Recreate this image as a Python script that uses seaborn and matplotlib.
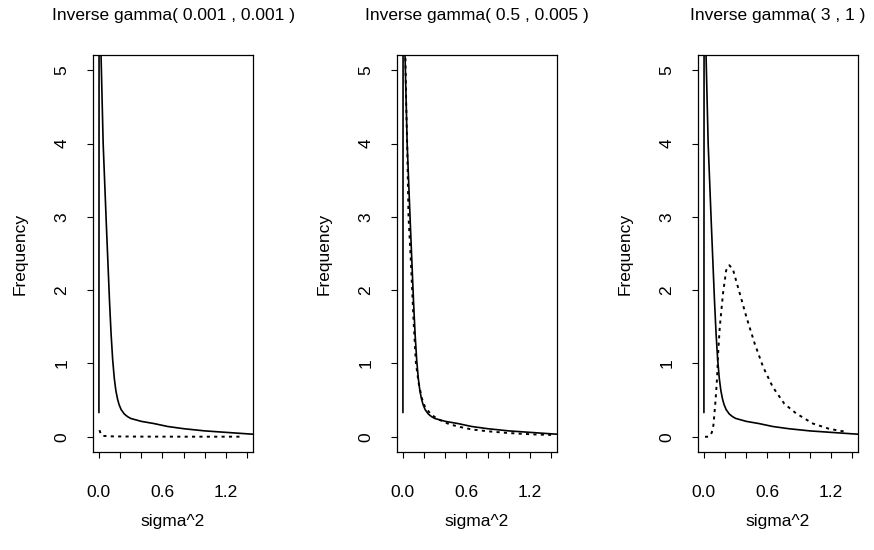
import matplotlib
matplotlib.use("Agg")
import matplotlib.pyplot as plt
import seaborn as sns
import pandas as pd

# ---- data ----
titles = ["Inverse gamma( 0.001 , 0.001 )",
          "Inverse gamma( 0.5 , 0.005 )",
          "Inverse gamma( 3 , 1 )"]

# solid curve (same in every panel)
post_x = [0.0, 0.003, 0.02, 0.04, 0.07, 0.10, 0.115, 0.13, 0.145, 0.16, 0.175,
          0.19, 0.21, 0.24, 0.27, 0.30, 0.40, 0.52, 0.65, 0.80, 1.00, 1.20,
          1.40, 1.456]
post_y = [0.33, 12.0, 5.2, 4.0, 2.9, 1.85, 1.4, 1.05, 0.8, 0.63, 0.52,
          0.44, 0.37, 0.31, 0.275, 0.25, 0.21, 0.18, 0.14, 0.11, 0.08, 0.06,
          0.04, 0.035]

# dotted prior curves
prior1_x = [0.005, 0.02, 0.04, 0.10, 0.20, 0.40, 0.60, 0.80, 1.00, 1.20, 1.36]
prior1_y = [0.09, 0.03, 0.012, 0.006, 0.004, 0.002, 0.0015, 0.001, 0.001, 0.001, 0.001]

prior2_x = [0.003, 0.02, 0.03, 0.04, 0.053, 0.075, 0.10, 0.123, 0.15, 0.18, 0.21,
            0.27, 0.33, 0.44, 0.55, 0.65, 0.80, 0.96, 1.10, 1.27, 1.40]
prior2_y = [10.0, 5.5, 4.6, 4.0, 3.0, 2.4, 1.6, 1.0, 0.72, 0.52, 0.40,
            0.30, 0.24, 0.17, 0.13, 0.10, 0.075, 0.055, 0.042, 0.030, 0.025]

prior3_x = [0.01, 0.04, 0.06, 0.075, 0.09, 0.11, 0.125, 0.134, 0.15, 0.18, 0.21,
            0.24, 0.275, 0.31, 0.34, 0.40, 0.48, 0.56, 0.65, 0.76, 0.87, 1.03,
            1.18, 1.29, 1.34]
prior3_y = [0.0, 0.0, 0.02, 0.06, 0.16, 0.50, 0.82, 1.14, 1.50, 1.95, 2.27,
            2.34, 2.28, 2.10, 1.95, 1.64, 1.27, 0.95, 0.68, 0.45, 0.32, 0.18,
            0.11, 0.08, 0.07]

priors = [(prior1_x, prior1_y), (prior2_x, prior2_y), (prior3_x, prior3_y)]

x_ticks = [0.0, 0.2, 0.4, 0.6, 0.8, 1.0, 1.2, 1.4]
x_ticklabels = ["0.0", "", "", "0.6", "", "", "1.2", ""]
y_ticks = [0, 1, 2, 3, 4, 5]

# ---- style ----
sns.set_style("ticks")
plt.rcParams['font.family'] = ['Liberation Sans', 'DejaVu Sans']
plt.rcParams['font.size'] = 12.5
for k in ["text.color", "axes.labelcolor", "xtick.color", "ytick.color", "axes.edgecolor"]:
    plt.rcParams[k] = "black"

fig = plt.figure(figsize=(8.74, 5.5), dpi=100)
W, H = 874.0, 550.0
lefts = [93, 397, 698]
width = 160
top, bottom = 55, 452

for i in range(3):
    ax = fig.add_axes([lefts[i] / W, 1 - bottom / H, width / W, (bottom - top) / H])
    dpost = pd.DataFrame({"x": post_x, "y": post_y})
    sns.lineplot(data=dpost, x="x", y="y", ax=ax, color="black", lw=1.2,
                 sort=False, estimator=None)
    px, py = priors[i]
    dpr = pd.DataFrame({"x": px, "y": py})
    sns.lineplot(data=dpr, x="x", y="y", ax=ax, color="black", lw=1.4,
                 sort=False, estimator=None, linestyle=(0, (1.6, 2.2)))
    ax.set_xlim(-0.056, 1.456)
    ax.set_ylim(-0.208, 5.208)
    ax.set_xticks(x_ticks)
    ax.set_xticklabels(x_ticklabels)
    ax.set_yticks(y_ticks)
    ax.set_yticklabels([str(v) for v in y_ticks], rotation=90, va="center")
    ax.tick_params(axis="x", direction="out", length=4, width=0.8, pad=20,
                   labelsize=12.5, colors="black")
    ax.tick_params(axis="y", direction="out", length=4, width=0.8, pad=13,
                   labelsize=12.5, colors="black")
    for s in ax.spines.values():
        s.set_visible(True)
        s.set_linewidth(0.9)
        s.set_color("black")
    ax.set_xlabel("sigma^2", fontsize=12.5, color="black")
    ax.set_ylabel("Frequency", fontsize=12.5, color="black")
    ax.xaxis.set_label_coords(0.5, -0.155)
    ax.yaxis.set_label_coords(-0.41, 0.5)
    ax.set_title(titles[i], fontsize=12.5, pad=25, color="black")

fig.savefig("out.png", dpi=100)
